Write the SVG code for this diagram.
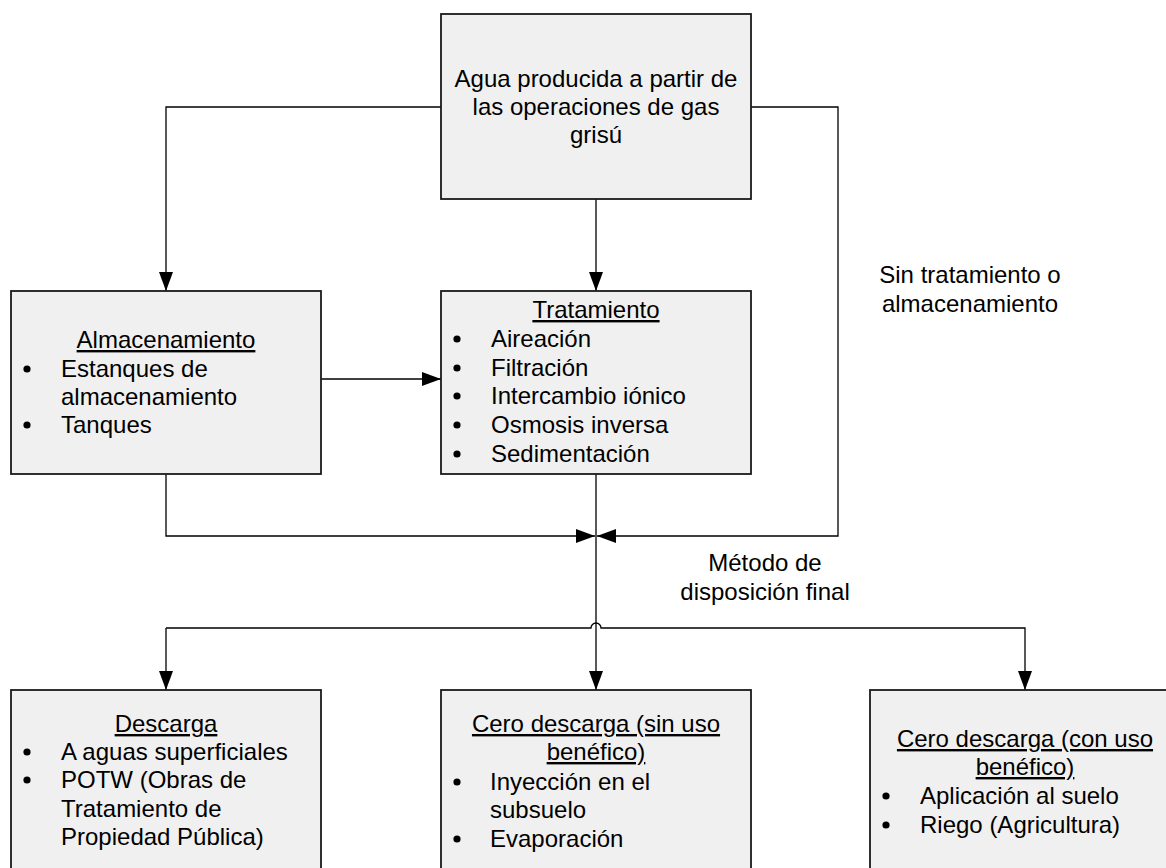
<svg xmlns="http://www.w3.org/2000/svg" width="1166" height="868" viewBox="0 0 1166 868">
  <style>
    .box { fill: #f0f0f0; stroke: #1a1a1a; stroke-width: 1.8; }
    .wire { fill: none; stroke: #000; stroke-width: 1.3; }
    text { font-family: "Liberation Sans", Arial, sans-serif; font-size: 24px; fill: #000; }
    .c { text-anchor: middle; }
    .u { text-decoration: underline; }
  </style>
  <defs>
    <marker id="arrow" markerUnits="userSpaceOnUse" markerWidth="20" markerHeight="14" refX="19" refY="7" orient="auto">
      <path d="M0,0 L19,7 L0,14 Z" fill="#000"/>
    </marker>
    <circle id="dot" r="3.6" fill="#000"/>
  </defs>
  <rect width="1166" height="868" fill="#fff"/>

  <!-- connectors -->
  <g id="connectors">
    <path class="wire" d="M596,199 V291" marker-end="url(#arrow)"/>
    <path class="wire" d="M441,107 H166 V291" marker-end="url(#arrow)"/>
    <path class="wire" d="M751,107 H838 V536 H597" marker-end="url(#arrow)"/>
    <path class="wire" d="M321,379 H441" marker-end="url(#arrow)"/>
    <path class="wire" d="M166,474 V536 H595" marker-end="url(#arrow)"/>
    <path class="wire" d="M596,474 V690" marker-end="url(#arrow)"/>
    <path class="wire" d="M166,628 H591 A5,5 0 0 1 601,628 H1025 V690" marker-end="url(#arrow)"/>
    <path class="wire" d="M166,628 V690" marker-end="url(#arrow)"/>
  </g>

  <!-- source -->
  <g id="source">
    <rect class="box" x="441" y="14" width="310" height="185"/>
    <text class="c" x="596" y="87">Agua producida a partir de</text>
    <text class="c" x="596" y="115">las operaciones de gas</text>
    <text class="c" x="596" y="143">grisú</text>
  </g>

  <!-- storage -->
  <g id="storage">
    <rect class="box" x="11" y="291" width="310" height="183"/>
    <text class="c u" x="166" y="348">Almacenamiento</text>
    <use href="#dot" x="27" y="369"/>
    <text x="61" y="377">Estanques de</text>
    <text x="61" y="405">almacenamiento</text>
    <use href="#dot" x="27" y="425"/>
    <text x="61" y="433">Tanques</text>
  </g>

  <!-- treatment -->
  <g id="treatment">
    <rect class="box" x="441" y="291" width="310" height="183"/>
    <text class="c u" x="596" y="318">Tratamiento</text>
    <use href="#dot" x="457" y="339"/>
    <text x="491" y="347">Aireación</text>
    <use href="#dot" x="457" y="368"/>
    <text x="491" y="376">Filtración</text>
    <use href="#dot" x="457" y="396"/>
    <text x="491" y="404">Intercambio iónico</text>
    <use href="#dot" x="457" y="425"/>
    <text x="491" y="433">Osmosis inversa</text>
    <use href="#dot" x="457" y="454"/>
    <text x="491" y="462">Sedimentación</text>
  </g>

  <!-- edge labels -->
  <g id="label-bypass">
    <text class="c" x="970" y="283">Sin tratamiento o</text>
    <text class="c" x="970" y="312">almacenamiento</text>
  </g>
  <g id="label-disposal">
    <text class="c" x="765" y="571">Método de</text>
    <text class="c" x="765" y="600">disposición final</text>
  </g>

  <!-- discharge -->
  <g id="discharge">
    <rect class="box" x="11" y="690" width="310" height="183"/>
    <text class="c u" x="166" y="732">Descarga</text>
    <use href="#dot" x="27" y="752"/>
    <text x="61" y="760">A aguas superficiales</text>
    <use href="#dot" x="27" y="780"/>
    <text x="61" y="788">POTW (Obras de</text>
    <text x="61" y="817">Tratamiento de</text>
    <text x="61" y="845">Propiedad Pública)</text>
  </g>

  <!-- zero discharge, no beneficial use -->
  <g id="zero-no-use">
    <rect class="box" x="441" y="690" width="310" height="183"/>
    <text class="c u" x="596" y="732">Cero descarga (sin uso</text>
    <text class="c u" x="596" y="760">benéfico)</text>
    <use href="#dot" x="457" y="782"/>
    <text x="490" y="790">Inyección en el</text>
    <text x="490" y="818">subsuelo</text>
    <use href="#dot" x="457" y="839"/>
    <text x="490" y="847">Evaporación</text>
  </g>

  <!-- zero discharge, beneficial use -->
  <g id="zero-with-use">
    <rect class="box" x="870" y="690" width="310" height="183"/>
    <text class="c u" x="1025" y="747">Cero descarga (con uso</text>
    <text class="c u" x="1025" y="775">benéfico)</text>
    <use href="#dot" x="886" y="796"/>
    <text x="920" y="804">Aplicación al suelo</text>
    <use href="#dot" x="886" y="825"/>
    <text x="920" y="833">Riego (Agricultura)</text>
  </g>
</svg>
